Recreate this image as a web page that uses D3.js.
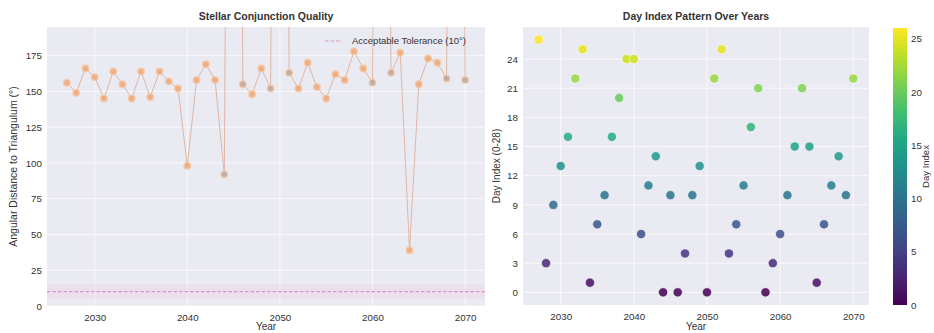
<!DOCTYPE html>
<html>
<head>
<meta charset="utf-8">
<script src="https://cdn.jsdelivr.net/npm/d3@7"></script>
<style>
  html, body { margin: 0; padding: 0; background: #fff; }
  svg { display: block; font-family: "Liberation Sans", Arial, sans-serif; }
  .tick text { fill: #333; font-size: 9.8px; }
</style>
</head>
<body>
<svg id="chart" width="934" height="333"></svg>
<script>
// ─── Data ─────────────────────────────────────────────────────────────────────
const years = [2027, 2028, 2029, 2030, 2031, 2032, 2033, 2034, 2035, 2036, 2037,
  2038, 2039, 2040, 2041, 2042, 2043, 2044, 2045, 2046, 2047, 2048, 2049, 2050,
  2051, 2052, 2053, 2054, 2055, 2056, 2057, 2058, 2059, 2060, 2061, 2062, 2063,
  2064, 2065, 2066, 2067, 2068, 2069, 2070];

// angular distance (deg); a few years shoot far above the visible range
const angles = [156, 149, 166, 160, 145, 164, 155, 145, 164, 146, 164,
  157, 152, 98, 158, 169, 158, 92, 1180, 155, 148, 166, 152, 1240,
  163, 152, 170, 153, 145, 162, 158, 178, 166, 156, 1160, 163, 177,
  39, 155, 173, 170, 159, 1210, 158];

const dayIndex = [26, 3, 9, 13, 16, 22, 25, 1, 7, 10, 16,
  20, 24, 24, 6, 11, 14, 0, 10, 0, 4, 10, 13, 0,
  22, 25, 4, 7, 11, 17, 21, 0, 3, 6, 10, 15, 21,
  15, 1, 7, 11, 14, 10, 22];

const tolerance = 10;
const toleranceBand = [5, 15];
const angleTicks = [0, 25, 50, 75, 100, 125, 150, 175];
const yearTicks = [2030, 2040, 2050, 2060, 2070];
const dayTicks = [0, 3, 6, 9, 12, 15, 18, 21, 24];
const cbarTicks = [0, 5, 10, 15, 20, 25];

// ─── Setup ────────────────────────────────────────────────────────────────────
const svg = d3.select("#chart");
const BG = "#eaeaf2";
const INK = "#333";
const yearExtent = [2024.85, 2072.15];

function grid(g, xs, ys, x, y, w, h) {
  g.selectAll(".gx").data(xs).join("line").attr("class", "gx")
    .attr("x1", (d) => x(d)).attr("x2", (d) => x(d)).attr("y1", 0).attr("y2", h)
    .attr("stroke", "#fff").attr("stroke-width", 0.7);
  g.selectAll(".gy").data(ys).join("line").attr("class", "gy")
    .attr("x1", 0).attr("x2", w).attr("y1", (d) => y(d)).attr("y2", (d) => y(d))
    .attr("stroke", "#fff").attr("stroke-width", 0.7);
}

function axes(g, x, y, w, h, xt, yt) {
  g.append("g").attr("transform", `translate(0,${h})`)
    .call(d3.axisBottom(x).tickValues(xt).tickFormat(d3.format("d")).tickSize(0).tickPadding(8))
    .call((a) => a.select(".domain").remove());
  g.append("g")
    .call(d3.axisLeft(y).tickValues(yt).tickFormat(d3.format("d")).tickSize(0).tickPadding(5))
    .call((a) => a.select(".domain").remove());
}

function label(x, y, text, size, rotate, bold) {
  svg.append("text")
    .attr("transform", `translate(${x},${y})${rotate ? " rotate(-90)" : ""}`)
    .attr("text-anchor", "middle").attr("font-size", size).attr("fill", INK)
    .attr("font-weight", bold ? "bold" : null)
    .text(text);
}

// ─── Left: Stellar Conjunction Quality ────────────────────────────────────────
{
  const m = { left: 47, top: 27 };
  const w = 438, h = 279;
  const x = d3.scaleLinear().domain(yearExtent).range([0, w]);
  const y = d3.scaleLinear().domain([0, 195]).range([h, 0]);
  const g = svg.append("g").attr("transform", `translate(${m.left},${m.top})`);

  g.append("rect").attr("width", w).attr("height", h).attr("fill", BG);
  grid(g, yearTicks, angleTicks, x, y, w, h);

  svg.append("clipPath").attr("id", "clipL").append("rect").attr("width", w).attr("height", h);
  const plot = g.append("g").attr("clip-path", "url(#clipL)");

  plot.append("rect")
    .attr("x", 0).attr("width", w)
    .attr("y", y(toleranceBand[1])).attr("height", y(toleranceBand[0]) - y(toleranceBand[1]))
    .attr("fill", "#f2c4e6").attr("opacity", 0.28);

  plot.append("line")
    .attr("x1", 0).attr("x2", w).attr("y1", y(tolerance)).attr("y2", y(tolerance))
    .attr("stroke", "#dc92d2").attr("stroke-width", 1.2).attr("stroke-dasharray", "3.5,2");

  const pts = years.map((yr, i) => ({ yr, v: angles[i] }));
  const line = d3.line().x((d) => x(d.yr)).y((d) => y(d.v));
  plot.append("path").datum(pts)
    .attr("fill", "none").attr("stroke", "#dcae98").attr("stroke-width", 1)
    .attr("opacity", 0.85).attr("d", line);

  // markers next to an off-scale year look greyer in the original
  const top = y.domain()[1];
  const nearSpike = (i) => (angles[i - 1] > top) || (angles[i + 1] > top);
  plot.selectAll("circle").data(pts.filter((d) => d.v <= top)).join("circle")
    .attr("cx", (d) => x(d.yr)).attr("cy", (d) => y(d.v)).attr("r", 3.3)
    .attr("fill", (d) => nearSpike(years.indexOf(d.yr)) ? "#b8a79d" : "#efa877")
    .attr("stroke", "#f8c49c").attr("stroke-width", 1.2).attr("opacity", 0.85);

  axes(g, x, y, w, h, yearTicks, angleTicks);

  // legend
  const lg = g.append("g").attr("transform", `translate(${w - 160},14)`);
  lg.append("line").attr("x1", 0).attr("x2", 17).attr("y1", 0).attr("y2", 0)
    .attr("stroke", "#dc92d2").attr("stroke-width", 1.2).attr("stroke-dasharray", "3.5,2");
  lg.append("text").attr("x", 27).attr("y", 3).attr("font-size", 9.5).attr("fill", INK)
    .text("Acceptable Tolerance (10°)");

  label(m.left + w / 2, 20, "Stellar Conjunction Quality", 10.5, false, true);
  label(m.left + w / 2, 330, "Year", 10, false, false);
  label(17, m.top + h / 2, "Angular Distance to Triangulum (°)", 10.5, true, false);
}

// ─── Right: Day Index Pattern Over Years ──────────────────────────────────────
{
  const m = { left: 523, top: 27 };
  const w = 346, h = 278;
  const x = d3.scaleLinear().domain(yearExtent).range([0, w]);
  const y = d3.scaleLinear().domain([-1.3, 27.3]).range([h, 0]);
  const color = d3.scaleSequential(d3.interpolateViridis).domain([0, 26]);
  const g = svg.append("g").attr("transform", `translate(${m.left},${m.top})`);

  g.append("rect").attr("width", w).attr("height", h).attr("fill", BG);
  grid(g, yearTicks, dayTicks, x, y, w, h);

  g.selectAll("circle").data(years.map((yr, i) => ({ yr, v: dayIndex[i] }))).join("circle")
    .attr("cx", (d) => x(d.yr)).attr("cy", (d) => y(d.v)).attr("r", 4.6)
    .attr("fill", (d) => color(d.v)).attr("opacity", 0.85)
    .attr("stroke", "#fff").attr("stroke-opacity", 0.6).attr("stroke-width", 1);

  axes(g, x, y, w, h, yearTicks, dayTicks);

  label(m.left + w / 2, 20, "Day Index Pattern Over Years", 10.5, false, true);
  label(m.left + w / 2, 330, "Year", 10, false, false);
  label(500, m.top + h / 2, "Day Index (0-28)", 10, true, false);

  // colorbar
  const cb = { x: 893, y: 28, w: 14, h: 277 };
  const grad = svg.append("defs").append("linearGradient").attr("id", "viridis")
    .attr("x1", 0).attr("x2", 0).attr("y1", 1).attr("y2", 0);
  d3.range(0, 1.0001, 0.1).forEach((t) => {
    grad.append("stop").attr("offset", t).attr("stop-color", d3.interpolateViridis(t));
  });
  svg.append("rect").attr("x", cb.x).attr("y", cb.y).attr("width", cb.w).attr("height", cb.h)
    .attr("fill", "url(#viridis)");
  const cy = d3.scaleLinear().domain([0, 26]).range([cb.y + cb.h, cb.y]);
  svg.append("g").attr("transform", `translate(${cb.x + cb.w},0)`)
    .call(d3.axisRight(cy).tickValues(cbarTicks).tickSize(0).tickPadding(4))
    .call((a) => a.select(".domain").remove());
  label(929, cb.y + cb.h / 2, "Day Index", 9.5, true, false);
}
</script>
</body>
</html>
